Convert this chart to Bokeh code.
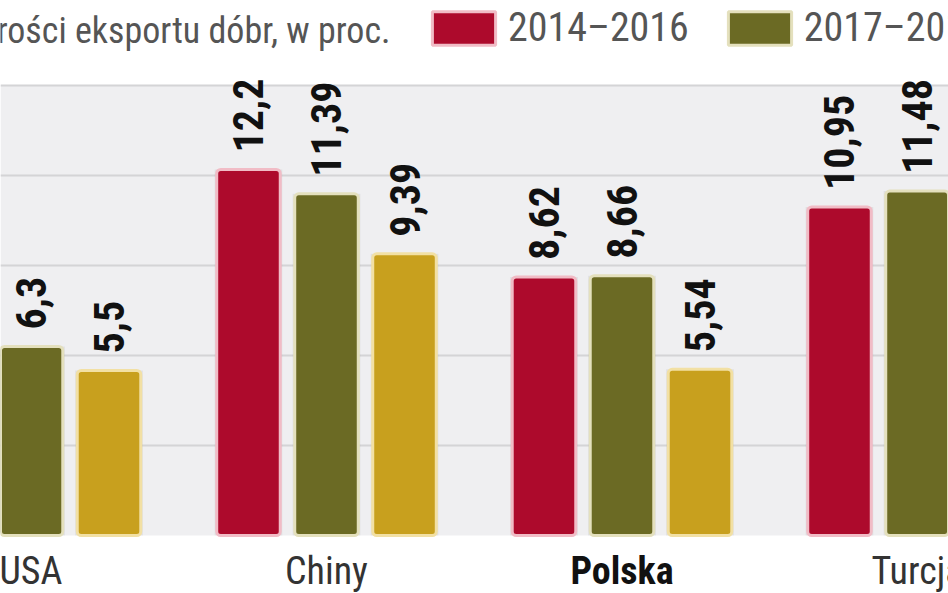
from bokeh.plotting import figure
from bokeh.models import ColumnDataSource, LabelSet, Label, Legend, LegendItem, FixedTicker, BoxAnnotation
from bokeh.core.properties import value
from bokeh.embed import file_html
from bokeh.resources import INLINE
import math

# ---- data ----
categories = ["USA", "Chiny", "Polska", "Turcja"]
series_names = ["2014–2016", "2017–2019", "2020–2022"]
s_2014_2016 = [None, 12.2, 8.62, 10.95]
s_2017_2019 = [6.3, 11.39, 8.66, 11.48]
s_2020_2022 = [5.5, 9.39, 5.54, None]
title_text = "rości eksportu dóbr, w proc."
y_ticks = [3, 6, 9, 12, 15]
y_base = 0

FONT = "Roboto Condensed"
fills = ["#ad0a2c", "#6b6a24", "#c8a01e"]
edges = ["#f1bcc6", "#e4e0bd", "#f2e0a4"]
offsets = [-0.264, 0.0, 0.264]
bar_w = 0.215

W, H = 948, 593
p = figure(width=W, height=H, output_backend="svg", toolbar_location=None,
           x_range=(-0.1032, 3.1049), y_range=(-1.9333, 17.8333),
           min_border=0)
p.background_fill_color = "#ffffff"
p.border_fill_color = "#ffffff"
p.outline_line_color = None
p.xaxis.visible = False
p.yaxis.visible = False
p.xgrid.visible = False
p.yaxis.ticker = FixedTicker(ticks=y_ticks)
p.ygrid.ticker = FixedTicker(ticks=y_ticks)
p.ygrid.grid_line_color = "#d4d4d6"
p.ygrid.grid_line_width = 2

# grey plotting area between baseline and top tick
p.add_layout(BoxAnnotation(bottom=y_base, top=y_ticks[-1], fill_color="#efeff1", fill_alpha=1.0,
                           line_color=None, level="image"))

renderers = []
for k, vals in enumerate([s_2014_2016, s_2017_2019, s_2020_2022]):
    xs, tops, labels = [], [], []
    for i, v in enumerate(vals):
        if v is None:
            continue
        xs.append(i + offsets[k])
        tops.append(v)
        labels.append(("%g" % v).replace(".", ","))
    src = ColumnDataSource(dict(x=xs, top=tops, label=labels))
    p.vbar(x="x", top="top", bottom=y_base, width=bar_w + 0.014, source=src,
           fill_color="#000000", fill_alpha=0.06, line_color=None)
    r = p.vbar(x="x", top="top", bottom=y_base, width=bar_w, source=src,
               fill_color=fills[k], line_color=edges[k], line_width=3, border_radius=4)
    renderers.append(r)
    p.add_layout(LabelSet(x="x", y="top", text="label", source=src, angle=math.pi / 2,
                          text_align="left", text_baseline="middle", y_offset=17,
                          text_font=value(FONT), text_font_style="bold",
                          text_font_size="42px", text_color="#111111"))

# category labels
cat_src = ColumnDataSource(dict(x=list(range(len(categories))), y=[-1.18] * len(categories),
                                text=categories,
                                style=["bold" if c == "Polska" else "normal" for c in categories],
                                color=["#111111" if c == "Polska" else "#333333" for c in categories]))
p.add_layout(LabelSet(x="x", y="y", text="text", source=cat_src, text_align="center",
                      text_baseline="middle", text_font=value(FONT), text_font_style="style",
                      text_font_size="38px", text_color="color"))

# title
p.add_layout(Label(x=1.2166, y=16.83, text=title_text, text_align="right", text_baseline="middle",
                   text_font=FONT, text_font_size="36px", text_color="#555555", text_font_style="normal"))

legend = Legend(items=[LegendItem(label=series_names[0], renderers=[renderers[0]]),
                       LegendItem(label=series_names[1], renderers=[renderers[1]])],
                location=(424, 542), orientation="horizontal",
                glyph_width=79, glyph_height=42, label_height=42,
                label_standoff=5, spacing=31, padding=0, margin=0,
                border_line_color=None, background_fill_alpha=0,
                label_text_font=FONT, label_text_font_size="40px", label_text_color="#555555")
p.add_layout(legend, "center")

open("out.html", "w").write(file_html(p, INLINE))
